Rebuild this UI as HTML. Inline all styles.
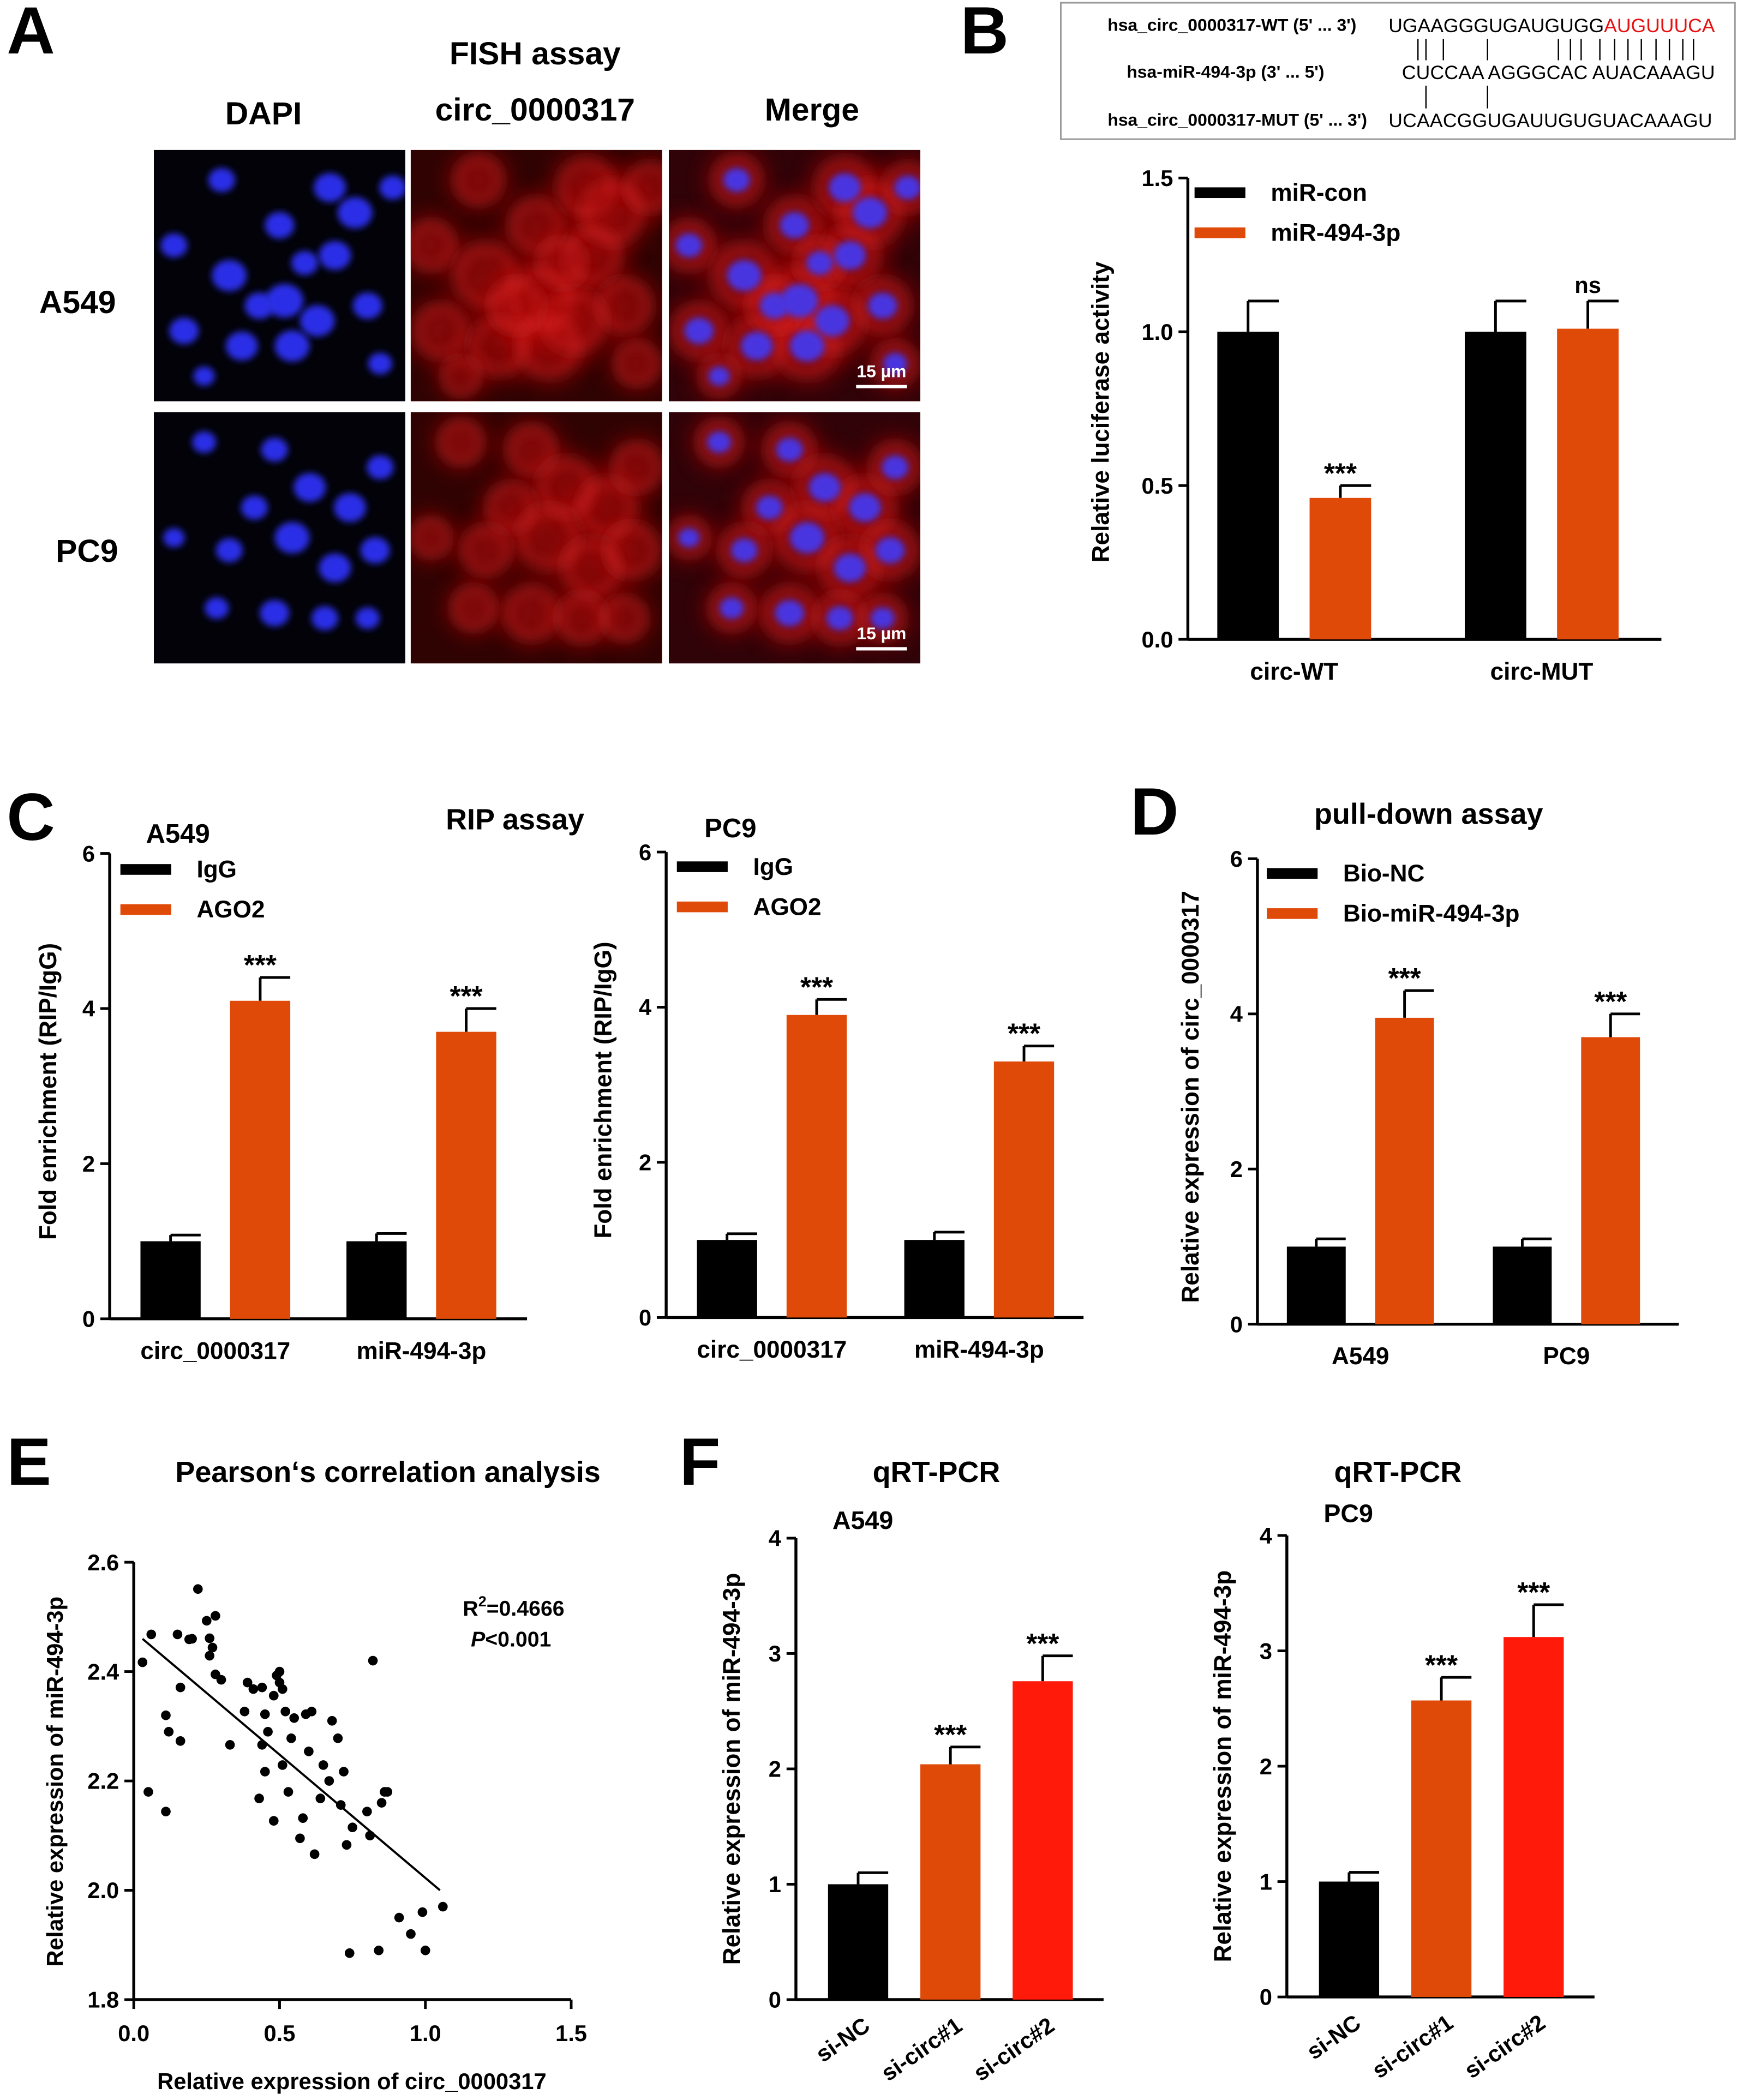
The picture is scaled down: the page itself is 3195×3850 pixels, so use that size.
<!DOCTYPE html>
<html><head><meta charset="utf-8">
<style>
html,body{margin:0;padding:0;background:#fff;}
svg{display:block;}
text{font-family:"Liberation Sans",Arial,sans-serif;}
</style></head>
<body>
<svg id="fig" width="3195" height="3850" viewBox="0 0 1303 1570" xmlns="http://www.w3.org/2000/svg">
<defs>
<filter id="blur2" x="-50%" y="-50%" width="200%" height="200%"><feGaussianBlur stdDeviation="2.5"/></filter>
<filter id="blur4" x="-50%" y="-50%" width="200%" height="200%"><feGaussianBlur stdDeviation="4"/></filter>
<filter id="blur6" x="-50%" y="-50%" width="200%" height="200%"><feGaussianBlur stdDeviation="8"/></filter>
<clipPath id="c1"><rect x="0" y="0" width="188" height="188"/></clipPath>
</defs>
<g id="root"></g>
</svg>
<script>
// ===== Chart data =====
const bCategories = ["circ-WT","circ-MUT"];
const bMiRcon = [1.0, 1.0];
const bMiRconErr = [0.1, 0.1];
const bMiR494 = [0.46, 1.01];
const bMiR494Err = [0.04, 0.09];
const bSig = ["***","ns"];
const bTicks = [0.0,0.5,1.0,1.5];
const bTickLabels = ["0.0","0.5","1.0","1.5"];

const cCategories = ["circ_0000317","miR-494-3p"];
const cA549IgG = [1.0, 1.0];
const cA549IgGErr = [0.08, 0.1];
const cA549AGO2 = [4.1, 3.7];
const cA549AGO2Err = [0.3, 0.3];
const cPC9IgG = [1.0, 1.0];
const cPC9IgGErr = [0.08, 0.1];
const cPC9AGO2 = [3.9, 3.3];
const cPC9AGO2Err = [0.2, 0.2];
const cTicks = [0,2,4,6];

const dCategories = ["A549","PC9"];
const dBioNC = [1.0, 1.0];
const dBioNCErr = [0.1, 0.1];
const dBioMiR = [3.95, 3.7];
const dBioMiRErr = [0.35, 0.3];
const dTicks = [0,2,4,6];

const eX = [0.03,0.06,0.05,0.11,0.11,0.15,0.16,0.16,0.22,0.19,0.25,0.27,0.28,0.26,0.26,0.28,0.30,0.33,0.38,0.39,0.41,0.44,0.45,0.46,0.48,0.49,0.50,0.50,0.51,0.52,0.43,0.44,0.45,0.48,0.51,0.53,0.54,0.55,0.57,0.58,0.59,0.61,0.60,0.62,0.64,0.65,0.67,0.68,0.70,0.71,0.72,0.73,0.75,0.80,0.81,0.87,0.74,0.84,0.91,0.95,0.99,1.00,1.06,0.86,0.85,0.82,0.20,0.12];
const eY = [2.417,2.468,2.180,2.144,2.320,2.468,2.273,2.371,2.551,2.459,2.493,2.444,2.502,2.461,2.429,2.395,2.385,2.266,2.327,2.380,2.368,2.371,2.322,2.290,2.356,2.393,2.400,2.380,2.368,2.327,2.168,2.266,2.217,2.127,2.229,2.180,2.278,2.315,2.095,2.132,2.322,2.327,2.254,2.066,2.168,2.229,2.200,2.310,2.278,2.156,2.217,2.083,2.115,2.144,2.100,2.180,1.885,1.890,1.950,1.920,1.960,1.890,1.970,2.180,2.160,2.420,2.460,2.290];
const eFit = [[0.03,2.46],[1.05,2.0]];
const eXTicks = [0.0,0.5,1.0,1.5];
const eXTickLabels = ["0.0","0.5","1.0","1.5"];
const eYTicks = [1.8,2.0,2.2,2.4,2.6];
const eYTickLabels = ["1.8","2.0","2.2","2.4","2.6"];

const fCategories = ["si-NC","si-circ#1","si-circ#2"];
const fA549 = [1.0, 2.04, 2.76];
const fA549Err = [0.1, 0.15, 0.22];
const fPC9 = [1.0, 2.57, 3.12];
const fPC9Err = [0.08, 0.2, 0.28];
const fSig = ["","***","***"];
const fTicks = [0,1,2,3,4];

// ===== helpers =====
const NS="http://www.w3.org/2000/svg";
const root=document.getElementById('root');
function el(tag,attrs,parent,txt){const e=document.createElementNS(NS,tag);for(const k in attrs)e.setAttribute(k,attrs[k]);if(txt!==undefined)e.textContent=txt;(parent||root).appendChild(e);return e;}
function txt(x,y,s,size,opts){opts=opts||{};const t=el('text',{x:x,y:y,'font-size':size,'font-weight':opts.w||'bold','text-anchor':opts.a||'middle',fill:opts.fill||'#000'},opts.p,s);if(opts.rot)t.setAttribute('transform','rotate('+opts.rot+' '+x+' '+y+')');return t;}
const BLACK='#000', ORANGE='#E04A08', RED='#FF1A0A';

// ===== Panel letters & titles =====
[["A",5,40],["B",718,40],["C",5,628],["D",845,624],["E",5,1110],["F",508,1110]].forEach(p=>{
  const t=txt(p[1],p[2],p[0],50,{a:'start'});
  
  
});

// ===== Panel A: microscopy =====
txt(400,48,"FISH assay",24);
txt(197,93,"DAPI",24);
txt(400,90,"circ_0000317",24);
txt(607,90,"Merge",24);
txt(58,234,"A549",24);
txt(65,420,"PC9",24);
const cells1=[[0.08,0.38,10],[0.12,0.72,11],[0.27,0.12,10],[0.3,0.5,13],[0.35,0.78,12],[0.5,0.3,11],[0.52,0.6,14],[0.55,0.78,13],[0.7,0.15,12],[0.72,0.42,12],[0.8,0.25,13],[0.85,0.62,11],[0.65,0.68,13],[0.42,0.62,11],[0.6,0.45,10],[0.9,0.85,9],[0.2,0.9,8],[0.95,0.15,10]];
const cells2=[[0.2,0.12,9],[0.48,0.15,10],[0.62,0.3,12],[0.78,0.38,12],[0.4,0.38,10],[0.55,0.5,13],[0.3,0.55,10],[0.72,0.62,12],[0.88,0.55,11],[0.48,0.8,11],[0.68,0.82,10],[0.85,0.82,9],[0.25,0.78,9],[0.9,0.22,10],[0.08,0.5,8]];
function micro(x,y,type,cells,row){
  const g=el('g',{transform:'translate('+x+','+y+')','clip-path':'url(#c1)'});
  
  
  el('rect',{x:0,y:0,width:188,height:188,fill:type==='dapi'?'#020208':(type==='red'?'#300303':'#300308')},g);
  if(type!=='dapi'){
    cells.forEach(c=>{el('circle',{cx:c[0]*188,cy:c[1]*188,r:c[2]*2.2,fill:'#b81010',opacity:0.6,filter:'url(#blur6)'},g);});
    cells.forEach(c=>{el('circle',{cx:c[0]*188,cy:c[1]*188,r:c[2]*1.5,fill:'none',stroke:'#f03030',"stroke-width":4,opacity:0.35,filter:'url(#blur4)'},g);});
  }
  if(type!=='red'){
    cells.forEach(c=>{el('ellipse',{cx:c[0]*188,cy:c[1]*188,rx:c[2],ry:c[2]*0.9,fill:type==='dapi'?'#2a2ee6':'#4a34e0',filter:'url(#blur2)'},g);});
  }
  if(type==='merge'){
    el('line',{x1:140,y1:177,x2:178,y2:177,stroke:'#fff','stroke-width':2.5},g);
    txt(159,170,"15 µm",13,{fill:'#fff',p:g});
  }
}
micro(115,112,'dapi',cells1,'a549');micro(307,112,'red',cells1,'a549');micro(500,112,'merge',cells1,'a549');
micro(115,308,'dapi',cells2,'pc9');micro(307,308,'red',cells2,'pc9');micro(500,308,'merge',cells2,'pc9');

// ===== Panel B sequence box =====
(function(){
  const g=el('g',{});
  
  
  el('rect',{x:793,y:2,width:504,height:102,fill:'#fff',stroke:'#999','stroke-width':1.2},g);
  txt(1014,23,"hsa_circ_0000317-WT (5' ... 3')",13,{a:'end',p:g});
  txt(990,58,"hsa-miR-494-3p (3' ... 5')",13,{a:'end',p:g});
  txt(1022,94,"hsa_circ_0000317-MUT (5' ... 3')",13,{a:'end',p:g});
  const t1=el('text',{x:1038,y:24,'font-size':14.5,fill:'#000','font-weight':'normal',textLength:244},g);
  t1.innerHTML='UGAAGGGUGAUGUGG<tspan fill="#e81010">AUGUUUCA</tspan>';
  const t2=txt(1048,59,"CUCCAA AGGGCAC AUACAAAGU",14.5,{a:'start',w:'normal',p:g});t2.setAttribute('textLength',234);
  const t3=txt(1038,95,"UCAACGGUGAUUGUGUACAAAGU",14.5,{a:'start',w:'normal',p:g});t3.setAttribute('textLength',242);
  [1060,1066,1079,1112,1165,1174,1182,1196,1207,1217,1227,1238,1248,1258,1266].forEach(x=>el('line',{x1:x,y1:29,x2:x,y2:45,stroke:'#000','stroke-width':1},g));
  [1066,1112].forEach(x=>el('line',{x1:x,y1:64,x2:x,y2:81,stroke:'#000','stroke-width':1},g));
})();

// ===== generic bar chart =====
function barChart(cfg){
  const g=el('g',{});
  
  
  const ys=v=>cfg.y0-(v-cfg.ymin)/(cfg.ymax-cfg.ymin)*(cfg.y0-cfg.yTop);
  const ya=el('line',{x1:cfg.x0,y1:cfg.y0,x2:cfg.x0,y2:cfg.yTop,stroke:'#000','stroke-width':2.2},g);
  
  const xa=el('line',{x1:cfg.x0,y1:cfg.y0,x2:cfg.xEnd,y2:cfg.y0,stroke:'#000','stroke-width':2.2},g);
  
  cfg.ticks.forEach((t,i)=>{
    const y=ys(t);
    el('line',{x1:cfg.x0-7,y1:y,x2:cfg.x0,y2:y,stroke:'#000','stroke-width':2},g);
    const lb=txt(cfg.x0-11,y+6,cfg.tickLabels?cfg.tickLabels[i]:String(t),17,{a:'end',p:g});
    
  });
  const yt=txt(cfg.ytx,cfg.yty,cfg.ytitle,18,{rot:-90,p:g});
  
  cfg.series.forEach((s,si)=>{
    s.values.forEach((v,ci)=>{
      const x=cfg.groupX[ci]+si*cfg.step;
      const yv=ys(v), ye=ys(v+s.err[ci]);
      const cx=x+cfg.bw/2;
      el('line',{x1:cx,y1:ye,x2:cx,y2:yv,stroke:'#000','stroke-width':2},g);
      el('line',{x1:cx,y1:ye,x2:x+cfg.bw,y2:ye,stroke:'#000','stroke-width':2},g);
      const r=el('rect',{x:x,y:yv,width:cfg.bw,height:cfg.y0-yv,fill:s.color},g);
      
      
      const sig=s.sig?s.sig[ci]:'';
      if(sig){const st=txt(cx,ye-(sig==='ns'?6:2),sig,sig==='ns'?17:21,{p:g});}
    });
  });
  cfg.categories.forEach((c,ci)=>{
    const x=cfg.groupX[ci]+(cfg.series.length*cfg.step-(cfg.step-cfg.bw))/2;
    const lb=txt(x,cfg.y0+30,c,18,{p:g});
    
  });
  if(cfg.legend){
    cfg.legend.forEach((l,i)=>{
      const lg=el('g',{},g);
      
      
      el('rect',{x:cfg.legend.x,y:cfg.legend.y+i*30-4,width:38,height:8,fill:l.color},lg);
      txt(cfg.legend.x+57,cfg.legend.y+i*30+6,l.label,18,{a:'start',p:lg});
    });
  }
}

// Panel B chart
(function(){
  const cfg={name:'chart-b-luciferase',x0:888,xEnd:1242,y0:478,yTop:133,ymin:0,ymax:1.5,ticks:bTicks,tickLabels:bTickLabels,
    ytx:829,yty:308,ytitle:'Relative luciferase activity',groupX:[910,1095],step:69,bw:46,categories:bCategories,
    series:[{key:'mir-con',values:bMiRcon,err:bMiRconErr,color:BLACK},{key:'mir-494',values:bMiR494,err:bMiR494Err,color:ORANGE,sig:bSig}],
    legend:[{key:'mir-con',label:'miR-con',color:BLACK},{key:'mir-494',label:'miR-494-3p',color:ORANGE}]};
  cfg.legend.x=893;cfg.legend.y=144;
  barChart(cfg);
})();

// Panel C
txt(385,620,"RIP assay",22);
txt(133,630,"A549",20);
txt(546,626,"PC9",20);
(function(){
  const mk=(name,x0,y0,yTop,gx,ig,ige,ag,age,ytx,lx,ly)=>{
    const cfg={name:name,x0:x0,xEnd:x0+312,y0:y0,yTop:yTop,ymin:0,ymax:6,ticks:cTicks,ytx:ytx,yty:(y0+yTop)/2+4,ytitle:'Fold enrichment (RIP/IgG)',
      groupX:gx,step:67,bw:45,categories:cCategories,
      series:[{key:'igg',values:ig,err:ige,color:BLACK},{key:'ago2',values:ag,err:age,color:ORANGE,sig:['***','***']}],
      legend:[{key:'igg',label:'IgG',color:BLACK},{key:'ago2',label:'AGO2',color:ORANGE}]};
    cfg.legend.x=lx;cfg.legend.y=ly;barChart(cfg);
  };
  mk('chart-c-a549',82,986,638,[105,259],cA549IgG,cA549IgGErr,cA549AGO2,cA549AGO2Err,42,90,650);
  mk('chart-c-pc9',498,985,637,[521,676],cPC9IgG,cPC9IgGErr,cPC9AGO2,cPC9AGO2Err,457,506,648);
})();

// Panel D
txt(1068,616,"pull-down assay",22);
(function(){
  const cfg={name:'chart-d-pulldown',x0:940,xEnd:1255,y0:990,yTop:642,ymin:0,ymax:6,ticks:dTicks,ytx:896,yty:820,ytitle:'Relative expression of circ_0000317',
    groupX:[962,1116],step:66,bw:44,categories:dCategories,
    series:[{key:'bio-nc',values:dBioNC,err:dBioNCErr,color:BLACK},{key:'bio-mir',values:dBioMiR,err:dBioMiRErr,color:ORANGE,sig:['***','***']}],
    legend:[{key:'bio-nc',label:'Bio-NC',color:BLACK},{key:'bio-mir',label:'Bio-miR-494-3p',color:ORANGE}]};
  cfg.legend.x=947;cfg.legend.y=653;barChart(cfg);
})();

// Panel E scatter
txt(290,1108,"Pearson‘s correlation analysis",22);
(function(){
  const g=el('g',{});
  
  
  const X0=100,X1=427,Y0=1495,Y1=1168;
  const xs=v=>X0+(v-0)/1.5*(X1-X0);
  const ys=v=>Y0-(v-1.8)/0.8*(Y0-Y1);
  const ya=el('line',{x1:X0,y1:Y0,x2:X0,y2:Y1,stroke:'#000','stroke-width':2.2},g);
  
  const xa=el('line',{x1:X0,y1:Y0,x2:X1,y2:Y0,stroke:'#000','stroke-width':2.2},g);
  
  eYTicks.forEach((t,i)=>{const y=ys(t);el('line',{x1:X0-7,y1:y,x2:X0,y2:y,stroke:'#000','stroke-width':2},g);txt(X0-11,y+6,eYTickLabels[i],17,{a:'end',p:g});});
  eXTicks.forEach((t,i)=>{const x=xs(t);el('line',{x1:x,y1:Y0,x2:x,y2:Y0+7,stroke:'#000','stroke-width':2},g);txt(x,Y0+31,eXTickLabels[i],17,{p:g});});
  eX.forEach((v,i)=>{
    const c=el('circle',{cx:xs(v),cy:ys(eY[i]),r:3.6,fill:'#000'},g);
    
    
  });
  const fl=el('line',{x1:xs(eFit[0][0]),y1:ys(eFit[0][1]),x2:xs(eFit[1][0]),y2:ys(eFit[1][1]),stroke:'#000','stroke-width':1.6},g);
  
  const r2=el('text',{x:346,y:1208,'font-size':16,'font-weight':'bold'},g);
  r2.innerHTML='R<tspan font-size="11" dy="-7">2</tspan><tspan dy="7">=0.4666</tspan>';
  const pv=el('text',{x:352,y:1231,'font-size':16,'font-weight':'bold'},g);
  pv.innerHTML='<tspan font-style="italic">P</tspan>&lt;0.001';
  txt(263,1562,"Relative expression of circ_0000317",17,{p:g});
  txt(47,1332,"Relative expression of miR-494-3p",17,{rot:-90,p:g});
})();

// Panel F
txt(700,1108,"qRT-PCR",22);
txt(1045,1108,"qRT-PCR",22);
txt(645,1143,"A549",19);
txt(1008,1138,"PC9",19);
(function(){
  const mk=(name,x0,y0,yTop,vals,errs,ytx)=>{
    barChart({name:name,x0:x0,xEnd:x0+230,y0:y0,yTop:yTop,ymin:0,ymax:4,ticks:fTicks,ytx:ytx,yty:(y0+yTop)/2,ytitle:'Relative expression of miR-494-3p',
      groupX:[],step:69,bw:45,categories:[],series:[]});
    const cols=[BLACK,ORANGE,RED];
    const g=el('g',{});
    
    
    const ys=v=>y0-v/4*(y0-yTop);
    vals.forEach((v,i)=>{
      const x=x0+24+i*69, cx=x+22.5, yv=ys(v), ye=ys(v+errs[i]);
      el('line',{x1:cx,y1:ye,x2:cx,y2:yv,stroke:'#000','stroke-width':2},g);
      el('line',{x1:cx,y1:ye,x2:x+45,y2:ye,stroke:'#000','stroke-width':2},g);
      const r=el('rect',{x:x,y:yv,width:45,height:y0-yv,fill:cols[i]},g);
      
      
      if(fSig[i]){const st=txt(cx,ye-2,fSig[i],21,{p:g});}
      const lb=txt(cx+10,y0+22,fCategories[i],17,{a:'end',rot:-35,p:g});
      
    });
  };
  mk('chart-f-a549',595,1495,1150,fA549,fA549Err,553);
  mk('chart-f-pc9',962,1493,1148,fPC9,fPC9Err,920);
})();
</script>
</body></html>
